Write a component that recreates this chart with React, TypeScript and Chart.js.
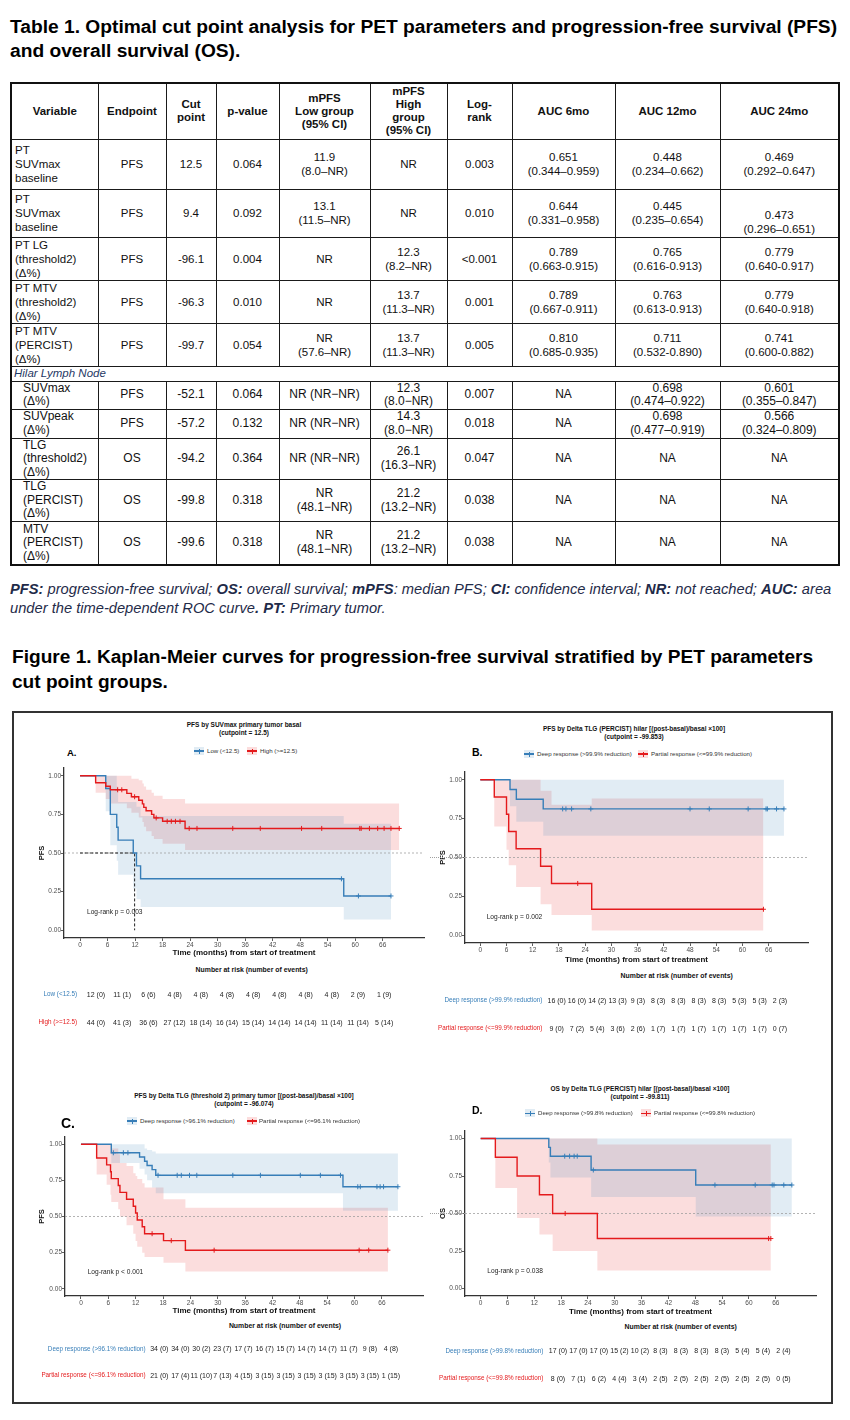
import React, { useEffect, useRef } from "react";
import { Chart, registerables } from "chart.js";
Chart.register(...registerables);

const FONT = '"Liberation Sans", Arial, Helvetica, sans-serif';
Chart.defaults.font.family = FONT;

const BLUE = "#377EB8";
const RED = "#E41A1C";
const BLUE_BAND = "rgba(55,126,184,0.15)";
const RED_BAND = "rgba(228,26,28,0.15)";
const NAVY = "#1F2B49";

// ---------------- Table 1 data ----------------
const tableTitle = [
  "Table 1. Optimal cut point analysis for PET parameters and progression-free survival (PFS)",
  "and overall survival (OS).",
];
const tableHeader = ["Variable", "Endpoint", "Cut\npoint", "p-value", "mPFS\nLow group\n(95% CI)", "mPFS\nHigh\ngroup\n(95% CI)", "Log-\nrank", "AUC 6mo", "AUC 12mo", "AUC 24mo"];
const rowVariable = ["PT\nSUVmax\nbaseline", "PT\nSUVmax\nbaseline", "PT LG\n(threshold2)\n(Δ%)", "PT MTV\n(threshold2)\n(Δ%)", "PT MTV\n(PERCIST)\n(Δ%)", "SUVmax\n(Δ%)", "SUVpeak\n(Δ%)", "TLG\n(threshold2)\n(Δ%)", "TLG\n(PERCIST)\n(Δ%)", "MTV\n(PERCIST)\n(Δ%)"];
const rowEndpoint = ["PFS", "PFS", "PFS", "PFS", "PFS", "PFS", "PFS", "OS", "OS", "OS"];
const rowCutPoint = ["12.5", "9.4", "-96.1", "-96.3", "-99.7", "-52.1", "-57.2", "-94.2", "-99.8", "-99.6"];
const rowPValue = ["0.064", "0.092", "0.004", "0.010", "0.054", "0.064", "0.132", "0.364", "0.318", "0.318"];
const rowMpfsLow = ["11.9\n(8.0–NR)", "13.1\n(11.5–NR)", "NR", "NR", "NR\n(57.6–NR)", "NR (NR−NR)", "NR (NR−NR)", "NR (NR−NR)", "NR\n(48.1−NR)", "NR\n(48.1−NR)"];
const rowMpfsHigh = ["NR", "NR", "12.3\n(8.2–NR)", "13.7\n(11.3–NR)", "13.7\n(11.3–NR)", "12.3\n(8.0−NR)", "14.3\n(8.0−NR)", "26.1\n(16.3−NR)", "21.2\n(13.2−NR)", "21.2\n(13.2−NR)"];
const rowLogRank = ["0.003", "0.010", "<0.001", "0.001", "0.005", "0.007", "0.018", "0.047", "0.038", "0.038"];
const rowAuc6 = ["0.651\n(0.344–0.959)", "0.644\n(0.331–0.958)", "0.789\n(0.663-0.915)", "0.789\n(0.667-0.911)", "0.810\n(0.685-0.935)", "NA", "NA", "NA", "NA", "NA"];
const rowAuc12 = ["0.448\n(0.234–0.662)", "0.445\n(0.235–0.654)", "0.765\n(0.616-0.913)", "0.763\n(0.613-0.913)", "0.711\n(0.532-0.890)", "0.698\n(0.474–0.922)", "0.698\n(0.477–0.919)", "NA", "NA", "NA"];
const rowAuc24 = ["0.469\n(0.292–0.647)", "0.473\n(0.296–0.651)", "0.779\n(0.640-0.917)", "0.779\n(0.640-0.918)", "0.741\n(0.600-0.882)", "0.601\n(0.355–0.847)", "0.566\n(0.324–0.809)", "NA", "NA", "NA"];
const sectionLabel = "Hilar Lymph Node";
const sectionBefore = 5;
const figureTitle = [
  "Figure 1. Kaplan-Meier curves for progression-free survival stratified by PET parameters",
  "cut point groups.",
];

// layout of the table
const colWidths = [87, 68, 50, 63, 91, 77, 65, 103, 105, 119];
const headerHeight = 56;
const rowHeights = [50, 48, 42, 41, 43, 28, 29, 41, 42, 43];
const sectionHeight = 15;

// ---------------- Kaplan-Meier data ----------------
const X_MIN = -3.5;
const X_MAX = 75;
const xTickValues = [0, 6, 12, 18, 24, 30, 36, 42, 48, 54, 60, 66];
const yTickValues = [0, 0.25, 0.5, 0.75, 1];

// Panel A
const aLowTime = [0, 5.6, 6.6, 8.0, 8.3, 11.6, 12.3, 13.2, 57.5, 67.8];
const aLowSurv = [1, 0.917, 0.75, 0.667, 0.583, 0.5, 0.417, 0.333, 0.222, 0.222];
const aLowUpper = [1, 1, 1, 0.93, 0.83, 0.83, 0.8, 0.74, 0.69, 0.69];
const aLowLower = [1, 0.77, 0.55, 0.45, 0.36, 0.27, 0.2, 0.15, 0.07, 0.07];
const aLowCensor = [57.0, 60.7, 67.8];
const aLowRiskN = [12, 11, 6, 4, 4, 4, 4, 4, 4, 4, 2, 1];
const aLowRiskE = [0, 1, 6, 8, 8, 8, 8, 8, 8, 8, 9, 9];
const aHighTime = [0, 3.4, 5.6, 6.6, 10.2, 11.2, 12.8, 13.6, 13.9, 14.4, 15.6, 16.1, 18.0, 22.9, 69.6];
const aHighSurv = [1, 0.955, 0.932, 0.909, 0.886, 0.864, 0.841, 0.818, 0.795, 0.773, 0.75, 0.727, 0.705, 0.659, 0.659];
const aHighUpper = [1, 1, 1, 1, 1, 0.98, 0.97, 0.95, 0.93, 0.91, 0.89, 0.87, 0.85, 0.82, 0.82];
const aHighLower = [1, 0.89, 0.85, 0.82, 0.79, 0.76, 0.73, 0.7, 0.67, 0.64, 0.61, 0.59, 0.56, 0.52, 0.52];
const aHighCensor = [8.2, 9.1, 11.9, 16.6, 19.0, 19.9, 20.8, 21.8, 23.8, 25.5, 33.3, 39.3, 48.3, 52.7, 61.0, 61.3, 63.1, 64.9, 66.3, 67.8, 69.6];
const aHighRiskN = [44, 41, 36, 27, 18, 16, 15, 14, 14, 11, 11, 5];
const aHighRiskE = [0, 3, 6, 12, 14, 14, 14, 14, 14, 14, 14, 14];

// Panel B
const bDeepTime = [0, 6.8, 8.25, 14.4, 69.5];
const bDeepSurv = [1, 0.9375, 0.875, 0.8125, 0.8125];
const bDeepUpper = [1, 1, 1, 1, 1];
const bDeepLower = [1, 0.83, 0.73, 0.64, 0.64];
const bDeepCensor = [18.85, 19.6, 20.9, 25.3, 48.0, 52.4, 61.3, 65.4, 65.7, 67.8, 69.5];
const bDeepRiskN = [16, 16, 14, 13, 9, 8, 8, 8, 8, 5, 5, 2];
const bDeepRiskE = [0, 0, 2, 3, 3, 3, 3, 3, 3, 3, 3, 3];
const bPartTime = [0, 3.2, 6.0, 6.5, 8.2, 13.8, 16.3, 25.5, 64.8];
const bPartSurv = [1, 0.889, 0.778, 0.667, 0.556, 0.444, 0.333, 0.167, 0.167];
const bPartUpper = [1, 1, 1, 1, 1, 0.93, 0.84, 0.88, 0.88];
const bPartLower = [1, 0.7, 0.55, 0.45, 0.31, 0.2, 0.13, 0.03, 0.03];
const bPartCensor = [22.3, 64.8];
const bPartRiskN = [9, 7, 5, 3, 2, 1, 1, 1, 1, 1, 1, 0];
const bPartRiskE = [0, 2, 4, 6, 6, 7, 7, 7, 7, 7, 7, 7];

// Panel C
const cDeepTime = [0, 6.65, 12.85, 13.95, 14.5, 15.6, 16.4, 57.45, 69.5];
const cDeepSurv = [1, 0.941, 0.912, 0.882, 0.853, 0.824, 0.785, 0.706, 0.706];
const cDeepUpper = [1, 1, 1, 0.97, 0.96, 0.95, 0.935, 0.935, 0.935];
const cDeepLower = [1, 0.87, 0.83, 0.79, 0.75, 0.7, 0.66, 0.54, 0.54];
const cDeepCensor = [7.1, 9.3, 10.3, 16.9, 21.1, 22.0, 23.8, 25.4, 33.3, 39.35, 48.1, 52.5, 56.9, 60.7, 61.25, 64.9, 65.6, 66.35, 69.5];
const cDeepRiskN = [34, 34, 30, 23, 17, 16, 15, 14, 14, 11, 9, 4];
const cDeepRiskE = [0, 0, 2, 7, 7, 7, 7, 7, 7, 7, 8, 8];
const cPartTime = [0, 3.44, 5.63, 6.48, 6.65, 8.18, 8.55, 10.0, 11.47, 11.98, 12.34, 13.43, 13.95, 18.1, 22.9, 67.3];
const cPartSurv = [1, 0.905, 0.857, 0.81, 0.762, 0.714, 0.667, 0.619, 0.571, 0.524, 0.476, 0.429, 0.381, 0.333, 0.267, 0.267];
const cPartUpper = [1, 1, 1, 1, 0.97, 0.93, 0.87, 0.85, 0.8, 0.78, 0.76, 0.73, 0.7, 0.62, 0.56, 0.56];
const cPartLower = [1, 0.79, 0.72, 0.65, 0.6, 0.55, 0.5, 0.44, 0.38, 0.33, 0.29, 0.25, 0.22, 0.18, 0.12, 0.12];
const cPartCensor = [15.6, 19.8, 29.2, 61.0, 63.1, 67.3];
const cPartRiskN = [21, 17, 11, 7, 4, 3, 3, 3, 3, 3, 3, 1];
const cPartRiskE = [0, 4, 10, 13, 15, 15, 15, 15, 15, 15, 15, 15];

// Panel D
const dDeepTime = [0, 15.24, 15.6, 24.7, 48.1, 69.6];
const dDeepSurv = [1, 0.941, 0.882, 0.79, 0.69, 0.69];
const dDeepUpper = [1, 1, 1, 1, 1, 1];
const dDeepLower = [1, 0.84, 0.74, 0.61, 0.48, 0.48];
const dDeepCensor = [18.8, 19.9, 20.9, 21.6, 25.2, 52.4, 61.4, 65.2, 65.6, 67.8, 69.6];
const dDeepRiskN = [17, 17, 17, 15, 10, 8, 8, 8, 8, 5, 5, 2];
const dDeepRiskE = [0, 0, 0, 2, 2, 3, 3, 3, 3, 4, 4, 4];
const dPartTime = [0, 3.29, 8.15, 13.15, 16.1, 26.1, 64.9];
const dPartSurv = [1, 0.875, 0.75, 0.625, 0.5, 0.333, 0.333];
const dPartUpper = [1, 1, 1, 1, 1, 0.96, 0.96];
const dPartLower = [1, 0.67, 0.47, 0.36, 0.25, 0.12, 0.12];
const dPartCensor = [18.9, 64.4, 64.9];
const dPartRiskN = [8, 7, 6, 4, 3, 2, 2, 2, 2, 2, 2, 0];
const dPartRiskE = [0, 1, 2, 4, 4, 5, 5, 5, 5, 5, 5, 5];

type Group = {
  name: string; color: string; band: string;
  time: number[]; surv: number[]; upper: number[]; lower: number[];
  censor: number[]; riskN: number[]; riskE: number[];
};

const mk = (name: string, color: string, band: string, time: number[], surv: number[], upper: number[], lower: number[], censor: number[], riskN: number[], riskE: number[]): Group =>
  ({ name, color, band, time, surv, upper, lower, censor, riskN, riskE });

const panels: any[] = [
  {
    letter: "A.", letterX: 67, letterY: 753, letterSize: 9.5,
    title: ["PFS by SUVmax primary tumor basal", "(cutpoint = 12.5)"], titleX: 244, titleY: [725, 733],
    legendY: 751, legendKeyX: [194, 247], legendTextX: [207, 260],
    plot: { l: 64, r: 424, t: 768, b: 938 }, yTitle: "PFS", yTitleX: 42, xTitleY: 953,
    logrank: "Log-rank p = 0.003", logrankX: 87, logrankY: 912,
    riskHeadX: 251.7, riskHeadY: 969, riskLabelRight: 77, riskX0: 96, riskStep: 26.2, riskY: [994, 1022],
    median: 11.9, dotFrom: null,
    groups: [
      mk("Low (<12.5)", BLUE, BLUE_BAND, aLowTime, aLowSurv, aLowUpper, aLowLower, aLowCensor, aLowRiskN, aLowRiskE),
      mk("High (>=12.5)", RED, RED_BAND, aHighTime, aHighSurv, aHighUpper, aHighLower, aHighCensor, aHighRiskN, aHighRiskE),
    ],
  },
  {
    letter: "B.", letterX: 472, letterY: 752, letterSize: 10.5,
    title: ["PFS by Delta TLG (PERCIST) hilar [(post-basal)/basal ×100]", "(cutpoint = -99.853)"], titleX: 634, titleY: [729, 737],
    legendY: 754, legendKeyX: [524, 638], legendTextX: [537, 651],
    plot: { l: 465, r: 808, t: 772, b: 943 }, yTitle: "PFS", yTitleX: 443, xTitleY: 959.3,
    logrank: "Log-rank p = 0.002", logrankX: 486.7, logrankY: 916.7,
    riskHeadX: 676.7, riskHeadY: 975, riskLabelRight: 542.3, riskX0: 556.7, riskStep: 20.3, riskY: [1000, 1028.3],
    median: null, dotFrom: 430,
    groups: [
      mk("Deep response (>99.9% reduction)", BLUE, BLUE_BAND, bDeepTime, bDeepSurv, bDeepUpper, bDeepLower, bDeepCensor, bDeepRiskN, bDeepRiskE),
      mk("Partial response (<=99.9% reduction)", RED, RED_BAND, bPartTime, bPartSurv, bPartUpper, bPartLower, bPartCensor, bPartRiskN, bPartRiskE),
    ],
  },
  {
    letter: "C.", letterX: 61, letterY: 1123, letterSize: 14,
    title: ["PFS by Delta TLG (threshold 2) primary tumor [(post-basal)/basal ×100]", "(cutpoint = -96.074)"], titleX: 244, titleY: [1096, 1104],
    legendY: 1121, legendKeyX: [127, 247], legendTextX: [140, 259],
    plot: { l: 65, r: 423, t: 1137, b: 1296 }, yTitle: "PFS", yTitleX: 41.7, xTitleY: 1311,
    logrank: "Log-rank p < 0.001", logrankX: 87.7, logrankY: 1272.3,
    riskHeadX: 285, riskHeadY: 1325.7, riskLabelRight: 145.7, riskX0: 159.3, riskStep: 21.06, riskY: [1348.7, 1375],
    median: null, dotFrom: null,
    groups: [
      mk("Deep response (>96.1% reduction)", BLUE, BLUE_BAND, cDeepTime, cDeepSurv, cDeepUpper, cDeepLower, cDeepCensor, cDeepRiskN, cDeepRiskE),
      mk("Partial response (<=96.1% reduction)", RED, RED_BAND, cPartTime, cPartSurv, cPartUpper, cPartLower, cPartCensor, cPartRiskN, cPartRiskE),
    ],
  },
  {
    letter: "D.", letterX: 472, letterY: 1110, letterSize: 10.5,
    title: ["OS by Delta TLG (PERCIST) hilar [(post-basal)/basal ×100]", "(cutpoint = -99.811)"], titleX: 640, titleY: [1089, 1097],
    legendY: 1113.3, legendKeyX: [525, 641], legendTextX: [538, 654],
    plot: { l: 465, r: 816, t: 1131, b: 1296 }, yTitle: "OS", yTitleX: 443, xTitleY: 1311.7,
    logrank: "Log-rank p = 0.038", logrankX: 487.3, logrankY: 1270.7,
    riskHeadX: 680.7, riskHeadY: 1326.7, riskLabelRight: 543.3, riskX0: 558, riskStep: 20.5, riskY: [1350.7, 1378.3],
    median: null, dotFrom: 430,
    groups: [
      mk("Deep response (>99.8% reduction)", BLUE, BLUE_BAND, dDeepTime, dDeepSurv, dDeepUpper, dDeepLower, dDeepCensor, dDeepRiskN, dDeepRiskE),
      mk("Partial response (<=99.8% reduction)", RED, RED_BAND, dPartTime, dPartSurv, dPartUpper, dPartLower, dPartCensor, dPartRiskN, dPartRiskE),
    ],
  },
];

// ---------------- helpers ----------------
const pts = (t: number[], v: number[]) => t.map((x, i) => ({ x, y: v[i] }));
const survAt = (g: Group, t: number) => {
  let v = g.surv[0];
  for (let i = 0; i < g.time.length; i++) if (g.time[i] <= t) v = g.surv[i];
  return v;
};

function Txt({ x, y, size, children, align = "left", bold = false, italic = false, color = "#222" }: any) {
  const lh = Math.round(size * 1.25);
  const tr = align === "center" ? "translateX(-50%)" : align === "right" ? "translateX(-100%)" : undefined;
  return (
    <div style={{ position: "absolute", left: x, top: y - lh / 2, height: lh, lineHeight: lh + "px", fontSize: size, fontFamily: FONT, fontWeight: bold ? 700 : 400, fontStyle: italic ? "italic" : "normal", color, whiteSpace: "nowrap", transform: tr }}>
      {children}
    </div>
  );
}

const lines = (s: string) => s.split("\n").map((l, i, a) => (
  <React.Fragment key={i}>{l}{i < a.length - 1 ? <br /> : null}</React.Fragment>
));

function buildConfig(s: any, canvasLeft: number, canvasBottom: number): any {
  const ds: any[] = [];
  s.groups.forEach((g: Group) => {
    ds.push({ data: pts(g.time, g.upper), stepped: true, borderWidth: 0, borderColor: "transparent", pointRadius: 0, fill: false, order: 10 });
    ds.push({ data: pts(g.time, g.lower), stepped: true, borderWidth: 0, borderColor: "transparent", pointRadius: 0, fill: "-1", backgroundColor: g.band, order: 10 });
  });
  ds.push({ data: [{ x: X_MIN, y: 0.5 }, { x: X_MAX, y: 0.5 }], borderColor: "#a0a0a0", borderWidth: 0.8, borderDash: [2, 2], pointRadius: 0, fill: false, order: 6 });
  if (s.median != null) {
    ds.push({ data: [{ x: 0, y: 0.5 }, { x: s.median, y: 0.5 }, { x: s.median, y: 0 }], borderColor: "#222", borderWidth: 1, borderDash: [3, 2], pointRadius: 0, fill: false, order: 5 });
  }
  s.groups.forEach((g: Group, gi: number) => {
    ds.push({ data: pts(g.time, g.surv), stepped: true, borderColor: g.color, borderWidth: 1.4, pointRadius: 0, fill: false, order: 4 - gi });
    ds.push({ data: g.censor.map((t) => ({ x: t, y: survAt(g, t) })), showLine: false, pointStyle: "cross", pointRadius: 2.5, pointBorderColor: g.color, pointBackgroundColor: g.color, pointBorderWidth: 1, borderColor: g.color, fill: false, order: 2 - gi });
  });
  const yW = s.plot.l - canvasLeft;
  const xH = canvasBottom - s.plot.b;
  const yTitlePad = Math.max(0, s.yTitleX - canvasLeft - 4.5);
  const xTitlePad = Math.max(0, canvasBottom - s.xTitleY - 4.8);
  const tickFont = { size: 6.5, family: FONT };
  return {
    type: "line",
    data: { datasets: ds },
    options: {
      animation: false, responsive: false, events: [],
      layout: { padding: { left: 0, top: 6, right: 6, bottom: 0 } },
      plugins: { legend: { display: false }, tooltip: { enabled: false }, colors: { enabled: false } },
      scales: {
        x: {
          type: "linear", min: X_MIN, max: X_MAX,
          afterBuildTicks: (sc: any) => { sc.ticks = xTickValues.map((v) => ({ value: v })); },
          afterFit: (sc: any) => { sc.height = xH; },
          ticks: { font: tickFont, color: "#4d4d4d", padding: 0, maxRotation: 0, autoSkip: false, callback: (v: any) => String(v) },
          grid: { display: true, drawOnChartArea: false, drawTicks: true, tickLength: 3, tickColor: "#333", tickWidth: 0.8 },
          border: { display: true, color: "#333", width: 1.3 },
          title: { display: true, text: "Time (months) from start of treatment", color: "#111", font: { size: 8, weight: "bold", family: FONT, lineHeight: 1.2 }, padding: { top: 0, bottom: xTitlePad } },
        },
        y: {
          type: "linear", min: -0.05, max: 1.05,
          afterBuildTicks: (sc: any) => { sc.ticks = yTickValues.map((v) => ({ value: v })); },
          afterFit: (sc: any) => { sc.width = yW; },
          ticks: { font: tickFont, color: "#4d4d4d", padding: 0, autoSkip: false, callback: (v: any) => Number(v).toFixed(2) },
          grid: { display: true, drawOnChartArea: false, drawTicks: true, tickLength: 3, tickColor: "#333", tickWidth: 0.8 },
          border: { display: true, color: "#333", width: 1.3 },
          title: { display: true, text: s.yTitle, color: "#111", font: { size: 7.5, weight: "bold", family: FONT, lineHeight: 1.2 }, padding: { top: yTitlePad, bottom: 0 } },
        },
      },
    },
  };
}

function LegendKey({ x, y, g }: any) {
  return (
    <div style={{ position: "absolute", left: x, top: y - 4, width: 10, height: 8, background: g.band }}>
      <div style={{ position: "absolute", left: 0, top: 3.4, width: 10, height: 1.3, background: g.color }} />
      <div style={{ position: "absolute", left: 4.5, top: 1.5, width: 1, height: 5, background: g.color }} />
    </div>
  );
}

function KMPanel({ s }: any) {
  const ref = useRef<HTMLCanvasElement>(null);
  const cl = s.plot.l - 28;
  const ct = s.plot.t - 6;
  const cr = s.plot.r + 6;
  const cb = Math.round(s.xTitleY + 6);
  const W = cr - cl;
  const H = cb - ct;
  useEffect(() => {
    const chart = new Chart(ref.current as HTMLCanvasElement, buildConfig(s, cl, cb));
    return () => chart.destroy();
  }, []);
  const yHalf = s.plot.t + ((1.05 - 0.5) / 1.1) * (s.plot.b - s.plot.t);
  return (
    <>
      <canvas ref={ref} width={W} height={H} style={{ position: "absolute", left: cl, top: ct, width: W, height: H }} />
      {s.dotFrom != null ? (
        <div style={{ position: "absolute", left: s.dotFrom, top: yHalf - 0.5, width: s.plot.l - s.dotFrom, height: 0, borderTop: "1px dotted #a0a0a0" }} />
      ) : null}
      <Txt x={s.titleX} y={s.titleY[0]} size={6.5} bold align="center" color="#111">{s.title[0]}</Txt>
      <Txt x={s.titleX} y={s.titleY[1]} size={6.5} bold align="center" color="#111">{s.title[1]}</Txt>
      {s.groups.map((g: Group, i: number) => (
        <React.Fragment key={"l" + i}>
          <LegendKey x={s.legendKeyX[i]} y={s.legendY} g={g} />
          <Txt x={s.legendTextX[i]} y={s.legendY} size={6.1} color="#333">{g.name}</Txt>
        </React.Fragment>
      ))}
      <Txt x={s.letterX} y={s.letterY} size={s.letterSize} bold color="#000">{s.letter}</Txt>
      <Txt x={s.logrankX} y={s.logrankY} size={6.6} color="#222">{s.logrank}</Txt>
      <Txt x={s.riskHeadX} y={s.riskHeadY} size={6.9} bold align="center" color="#111">Number at risk (number of events)</Txt>
      {s.groups.map((g: Group, i: number) => (
        <React.Fragment key={"r" + i}>
          <Txt x={s.riskLabelRight} y={s.riskY[i]} size={6.3} align="right" color={g.color}>{g.name}</Txt>
          {g.riskN.map((n, k) => (
            <Txt key={k} x={s.riskX0 + k * s.riskStep} y={s.riskY[i]} size={7} align="center" color="#222">{`${n} (${g.riskE[k]})`}</Txt>
          ))}
        </React.Fragment>
      ))}
    </>
  );
}

function Table1() {
  const cols = [rowVariable, rowEndpoint, rowCutPoint, rowPValue, rowMpfsLow, rowMpfsHigh, rowLogRank, rowAuc6, rowAuc12, rowAuc24];
  const border = "1px solid #1a1a1a";
  const trs: any[] = [];
  trs.push(
    <tr key="h" style={{ height: headerHeight }}>
      {tableHeader.map((h, j) => (
        <td key={j} style={{ border, textAlign: "center", verticalAlign: "middle", fontWeight: 700, fontSize: 11.5, lineHeight: "13px", padding: "0 2px" }}>{lines(h)}</td>
      ))}
    </tr>
  );
  rowVariable.forEach((_, i) => {
    if (i === sectionBefore) {
      trs.push(
        <tr key="sec" style={{ height: sectionHeight }}>
          <td colSpan={10} style={{ border, fontStyle: "italic", color: "#1F3864", fontSize: 11.5, lineHeight: "13px", padding: "0 2px" }}>{sectionLabel}</td>
        </tr>
      );
    }
    const lower = i >= sectionBefore;
    trs.push(
      <tr key={i} style={{ height: rowHeights[i] }}>
        {cols.map((c, j) => {
          const bottom = i === 1 && j === 9;
          return (
            <td key={j} style={{ border, textAlign: j === 0 ? "left" : "center", verticalAlign: bottom ? "bottom" : "middle", fontSize: lower ? 12 : 11.5, lineHeight: lower ? "13.5px" : "14px", padding: j === 0 ? (lower ? "0 2px 0 11px" : "0 2px 0 3px") : bottom ? "0 2px 1px 2px" : "0 2px" }}>
              {lines(c[i])}
            </td>
          );
        })}
      </tr>
    );
  });
  return (
    <table style={{ position: "absolute", left: 10, top: 82, width: 828, borderCollapse: "collapse", tableLayout: "fixed", border: "2px solid #111", fontFamily: FONT, color: "#111" }}>
      <colgroup>{colWidths.map((w, i) => <col key={i} style={{ width: w }} />)}</colgroup>
      <tbody>{trs}</tbody>
    </table>
  );
}

export default function App() {
  return (
    <div style={{ position: "absolute", left: 0, top: 0, width: 850, height: 1420, background: "#fff", overflow: "hidden", fontFamily: FONT }}>
      <div style={{ position: "absolute", left: 10, top: 15, fontSize: 19.2, fontWeight: 700, lineHeight: "24px", color: "#000", whiteSpace: "nowrap" }}>
        {tableTitle[0]}<br />{tableTitle[1]}
      </div>
      <Table1 />
      <div style={{ position: "absolute", left: 10, top: 580, fontSize: 14.7, fontStyle: "italic", lineHeight: "19px", color: NAVY, whiteSpace: "nowrap" }}>
        <b>PFS:</b> progression-free survival; <b>OS:</b> overall survival; <b>mPFS</b>: median PFS; <b>CI:</b> confidence interval; <b>NR:</b> not reached; <b>AUC:</b> area
        <br />
        under the time-dependent ROC curve<b>.</b> <b>PT:</b> Primary tumor.
      </div>
      <div style={{ position: "absolute", left: 12, top: 643.5, fontSize: 19.1, fontWeight: 700, lineHeight: "25px", color: "#000", whiteSpace: "nowrap" }}>
        {figureTitle[0]}<br />{figureTitle[1]}
      </div>
      <div style={{ position: "absolute", left: 12, top: 711, width: 821, height: 693, border: "2px solid #333", boxSizing: "border-box" }} />
      {panels.map((p, i) => <KMPanel key={i} s={p} />)}
    </div>
  );
}
